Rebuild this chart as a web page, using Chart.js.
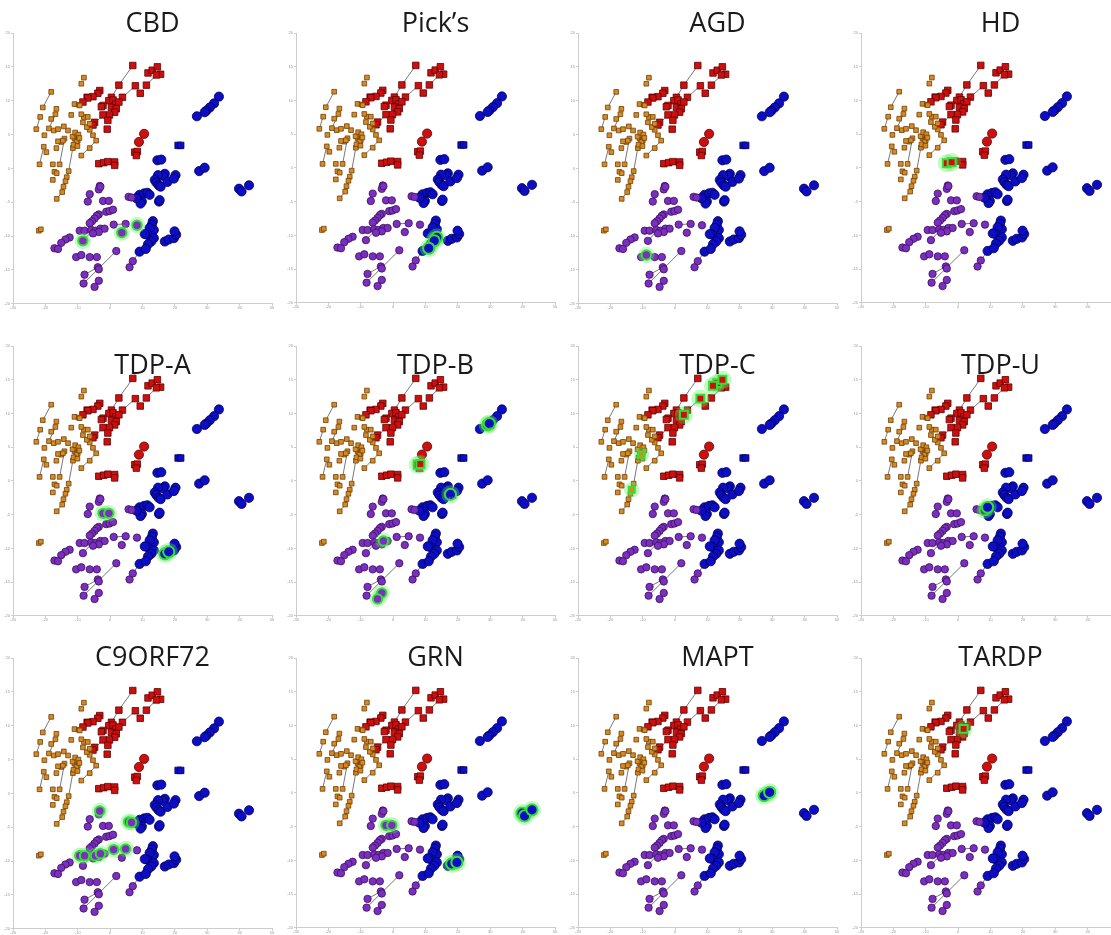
<!DOCTYPE html>
<html>
<head>
<meta charset="utf-8">
<script src="https://cdn.jsdelivr.net/npm/chart.js@4.4.1/dist/chart.umd.min.js"></script>
<style>
  body { margin: 0; background: #fff; width: 1111px; height: 935px; overflow: hidden; position: relative; font-family: "Open Sans", sans-serif; }
  .panel { position: absolute; width: 283px; height: 312px; }
  .title { position: absolute; width: 283px; text-align: center; font-size: 27px; line-height: 30px; color: #1a1a1a; }
</style>
</head>
<body>
<script>
// panel names, in reading order
const panelNames = ['CBD', 'Pick’s', 'AGD', 'HD', 'TDP-A', 'TDP-B', 'TDP-C', 'TDP-U', 'C9ORF72', 'GRN', 'MAPT', 'TARDP']

const xTicks = [-30, -20, -10, 0, 10, 20, 30, 40, 50]
const yTicks = [-20, -15, -10, -5, 0, 5, 10, 15, 20]

// base points, same in every panel
const orange = [[-8.1,13.4],[-8.9,12.5],[-18.2,11.3],[-20.8,9.0],[-21.6,7.6],[-22.8,5.8],[-16.6,8.8],[-16.9,8.0],[-18.2,7.3],[-18.9,5.9],[-17.4,5.6],[-16.1,5.8],[-14.3,6.2],[-13.0,5.6],[-11.0,9.5],[-9.7,9.4],[-12.0,7.9],[-8.1,7.6],[-8.4,6.8],[-11.0,4.4],[-10.0,4.1],[-10.5,4.9],[-11.6,4.7],[-10.4,3.9],[-5.3,4.9],[-4.3,4.1],[-6.3,5.7],[-14.1,4.4],[-15.1,3.9],[-20.3,4.9],[-20.5,3.2],[-19.7,2.4],[-21.8,0.6],[-16.1,4.0],[-16.6,3.0],[-14.6,4.1],[-11.5,3.0],[-6.3,3.0],[-8.9,1.9],[-17.7,0.6],[-15.6,0.6],[-17.2,-0.5],[-16.5,-0.7],[-12.8,-0.4],[-13.4,-1.3],[-13.8,-1.9],[-14.4,-2.7],[-14.8,-3.5],[-17.7,-1.7],[-16.5,-4.5],[-22.0,-9.2],[-21.4,-9.0],[-10.8,5.3],[-9.8,5.0],[-9.5,4.5],[-11.3,3.5],[-10.1,3.3],[-7.2,6.1],[-6.3,6.6],[-8.9,8.0],[-6.9,7.6],[-9.4,9.3]]
const red = [[7.0,15.2],[2.7,12.3],[11.7,14.1],[13.0,14.5],[14.6,15.0],[15.6,13.9],[14.3,13.8],[7.8,12.2],[11.2,12.3],[9.3,11.1],[3.8,10.5],[-3.2,11.5],[-3.8,11.1],[-5.3,10.6],[-7.1,10.5],[-6.9,10.4],[-8.4,9.8],[0.4,10.5],[-0.4,10.0],[0.9,10.1],[1.7,9.5],[2.7,9.8],[-2.2,9.3],[-2.7,9.1],[0.4,9.0],[1.9,8.8],[1.4,8.3],[-0.2,7.9],[-2.2,7.9],[-0.7,7.1],[-4.8,6.8],[-5.3,6.4],[-0.9,5.8],[7.6,2.4],[8.4,2.5],[8.1,1.9],[-3.5,0.7],[-2.0,0.85],[-0.7,1.0],[1.4,0.95],[1.4,0.45]]
const redRound = [[10.5,5.1],[8.9,3.9]]
const blue = [[33.6,10.6],[32.1,9.6],[30.8,9.0],[29.7,8.5],[29.2,8.3],[26.8,7.7],[14.6,1.2],[15.8,1.3],[27.5,-0.4],[29.2,0.1],[39.8,-3.0],[40.6,-3.4],[42.9,-2.5],[16.9,-0.8],[16.3,-1.1],[14.8,-1.0],[13.8,-1.7],[14.3,-2.1],[15.0,-2.5],[15.6,-2.7],[17.7,-2.0],[20.2,-1.0],[19.7,-1.5],[9.1,-3.9],[10.5,-3.7],[11.5,-3.6],[12.2,-3.9],[9.8,-4.9],[9.4,-5.2],[15.1,-4.9],[15.3,-4.7],[13.2,-7.8],[12.9,-8.3],[13.5,-9.1],[12.2,-8.8],[11.5,-9.8],[10.7,-9.7],[13.5,-10.3],[12.7,-10.8],[11.7,-11.2],[16.9,-10.8],[18.1,-10.5],[19.7,-10.3],[20.4,-9.8],[19.9,-9.3],[9.1,-12.3],[11.0,-11.9],[8.1,-4.4]]
const blueRect = [[21.0,3.4],[21.8,3.4]]
const purple = [[-3.2,-2.6],[-3.5,-3.1],[-3.0,-2.7],[-6.3,-3.8],[-6.9,-4.9],[-2.2,-4.8],[-0.4,-4.8],[5.7,-4.2],[6.6,-4.3],[-1.2,-6.4],[-0.2,-6.3],[0.9,-6.1],[-3.5,-6.8],[-4.1,-7.0],[-4.8,-7.4],[-5.6,-7.8],[-6.3,-8.1],[1.1,-8.3],[4.8,-8.2],[8.3,-8.4],[3.6,-9.5],[-9.4,-9.2],[-7.9,-9.2],[-5.8,-9.1],[-4.5,-9.2],[-3.0,-8.9],[-1.7,-8.9],[-3.5,-9.4],[-5.3,-9.6],[-8.4,-10.7],[-12.5,-10.2],[-13.8,-10.5],[-15.1,-11.0],[-17.2,-11.8],[-16.1,-11.9],[-10.5,-13.1],[-8.9,-12.8],[-6.3,-13.1],[-4.1,-13.1],[1.9,-12.2],[-3.8,-14.6],[-3.5,-14.9],[-7.9,-15.7],[-8.2,-17.0],[-3.5,-16.6],[-4.8,-17.5],[6.0,-14.6],[7.0,-13.7]]

// thin grey connectors between points
const links = [
  [[-18.2,11.3],[-20.8,9.0]], [[-21.6,7.6],[-22.8,5.8]], [[-20.5,3.2],[-21.8,0.6]], [[-11.0,4.4],[-12.8,-0.4]],
  [[-12.8,-0.4],[-14.8,-3.5]], [[-14.8,-3.5],[-16.5,-4.5]], [[-8.9,1.9],[-4.3,4.1]], [[-16.9,8.0],[-18.9,5.9]],
  [[-14.1,4.4],[-15.6,0.6]], [[7.0,15.2],[2.7,12.3]], [[2.7,12.3],[0.4,10.5]], [[11.2,12.3],[14.3,13.8]],
  [[3.8,10.5],[7.8,12.2]], [[-5.3,6.4],[-2.2,7.9]], [[-7.1,10.5],[-3.8,11.1]], [[1.1,-8.3],[4.8,-8.2]],
  [[-8.2,-17.0],[1.9,-12.2]], [[-7.9,-15.7],[-3.8,-14.6]], [[-8.4,-10.7],[-6.3,-9.6]], [[-16.1,-11.9],[-13.8,-10.5]],
  [[7.0,-13.7],[9.1,-12.3]], [[11.5,-9.8],[12.2,-8.8]]
]

// highlighted points per panel: x, y, group (o r b p)
const hlCBD = [[-8.4,-10.7,'p'],[3.6,-9.5,'p'],[8.3,-8.4,'p']]
const hlPicks = [[13.5,-10.3,'b'],[12.7,-10.8,'b'],[11.0,-11.9,'b']]
const hlAGD = [[-8.9,-12.8,'p']]
const hlHD = [[-3.5,0.7,'r'],[-2.0,0.85,'r']]
const hlTDPA = [[-2.2,-4.8,'p'],[-0.4,-4.8,'p'],[16.9,-10.8,'b'],[18.1,-10.5,'b']]
const hlTDPB = [[7.6,2.4,'r'],[8.4,2.5,'r'],[29.2,8.3,'b'],[29.7,8.5,'b'],[17.7,-2.0,'b'],[-3.0,-8.9,'p'],[-3.5,-16.6,'p'],[-4.8,-17.5,'p']]
const hlTDPC = [[-13.4,-1.3,'o'],[-10.4,3.9,'o'],[2.7,9.8,'r'],[7.8,12.2,'r'],[13.0,14.5,'r'],[14.6,15.0,'r'],[11.7,14.1,'r']]
const hlTDPU = [[8.1,-4.4,'p'],[9.1,-3.9,'b']]
const hlC9 = [[-3.2,-2.6,'p'],[5.7,-4.2,'p'],[6.6,-4.3,'p'],[-9.4,-9.2,'p'],[-7.9,-9.2,'p'],[-4.5,-9.2,'p'],[-3.0,-8.9,'p'],[1.1,-8.3,'p'],[4.8,-8.2,'p']]
const hlGRN = [[-2.2,-4.8,'p'],[-0.4,-4.8,'p'],[18.1,-10.5,'b'],[19.7,-10.3,'b'],[39.8,-3.0,'b'],[40.6,-3.4,'b'],[42.9,-2.5,'b']]
const hlMAPT = [[27.5,-0.4,'b'],[29.2,0.1,'b']]
const hlTARDP = [[1.7,9.5,'r']]
const highlights = [hlCBD, hlPicks, hlAGD, hlHD, hlTDPA, hlTDPB, hlTDPC, hlTDPU, hlC9, hlGRN, hlMAPT, hlTARDP]

// significance marks in TDP-B
const starsTDPB = [[8.2,1.0,'***'],[30.5,7.4,'**'],[18.4,-3.0,'***']]

const colors = {
  o: { fill: '#d88a1e', line: '#6b4010', r: 3.3, style: 'rect' },
  r: { fill: '#cc1010', line: '#600000', r: 4.6, style: 'rect' },
  b: { fill: '#0d0dc4', line: '#00005a', r: 4.6, style: 'circle' },
  p: { fill: '#7b2fbe', line: '#3a0f60', r: 3.7, style: 'circle' }
}

const pts = arr => arr.map(p => ({ x: p[0], y: p[1] }))

function baseSet(arr, key, style) {
  const c = colors[key]
  return {
    data: pts(arr), pointStyle: style || c.style, pointRadius: c.r,
    backgroundColor: c.fill, borderColor: c.line, borderWidth: 0.8, order: 2
  }
}

const starPlugin = {
  id: 'stars',
  afterDatasetsDraw(chart, args, opts) {
    if (!opts.marks) return
    const ctx = chart.ctx
    ctx.save()
    ctx.fillStyle = '#777'
    ctx.font = '6px "DejaVu Sans"'
    ctx.textAlign = 'center'
    opts.marks.forEach(m => {
      ctx.fillText(m[2], chart.scales.x.getPixelForValue(m[0]), chart.scales.y.getPixelForValue(m[1]))
    })
    ctx.restore()
  }
}

const colLeft = [0, 283, 565, 848]
const rowTop = [0, 313, 625]
const titleY = [22, 364, 656]

panelNames.forEach((name, i) => {
  const col = i % 4, row = Math.floor(i / 4)
  const div = document.createElement('div')
  div.className = 'panel'
  div.style.left = colLeft[col] + 'px'
  div.style.top = rowTop[row] + 'px'
  const cv = document.createElement('canvas')
  cv.width = 283
  cv.height = 312
  div.appendChild(cv)
  document.body.appendChild(div)

  const t = document.createElement('div')
  t.className = 'title'
  t.textContent = name
  t.style.left = (colLeft[col] + 11) + 'px'
  t.style.top = (titleY[row] - 15) + 'px'
  document.body.appendChild(t)

  const datasets = []
  links.forEach(l => datasets.push({
    data: pts(l), showLine: true, pointRadius: 0, borderColor: '#555', borderWidth: 0.8, order: 3
  }))
  datasets.push(baseSet(orange, 'o'))
  datasets.push(baseSet(red, 'r'))
  datasets.push(baseSet(redRound, 'r', 'circle'))
  datasets.push(baseSet(purple, 'p'))
  datasets.push(baseSet(blue, 'b'))
  datasets.push(baseSet(blueRect, 'b', 'rect'))
  const hl = highlights[i]
  // soft green halo, then ring with the point on top
  datasets.push({
    data: pts(hl), pointStyle: 'circle',
    pointRadius: hl.map(h => colors[h[2]].r + 4.5),
    backgroundColor: 'rgba(90,235,90,0.35)', borderWidth: 0, order: 1
  })
  datasets.push({
    data: pts(hl),
    pointStyle: hl.map(h => colors[h[2]].style),
    pointRadius: hl.map(h => colors[h[2]].r + 1),
    backgroundColor: hl.map(h => colors[h[2]].fill),
    borderColor: '#35e035', borderWidth: 2, order: 0
  })

  new Chart(cv, {
    type: 'scatter',
    data: { datasets },
    options: {
      responsive: false, animation: false, devicePixelRatio: 1,
      layout: { padding: { left: 0, right: 11, top: 33, bottom: 0 } },
      plugins: { legend: { display: false }, tooltip: { enabled: false }, stars: { marks: name === 'TDP-B' ? starsTDPB : null } },
      scales: {
        x: {
          min: -30, max: 50,
          afterBuildTicks: s => { s.ticks = xTicks.map(v => ({ value: v })) },
          afterFit: s => { s.height = 6 },
          ticks: { font: { size: 4 }, color: '#999', padding: 0, maxRotation: 0 },
          grid: { drawOnChartArea: false, tickLength: 2, color: '#ccc' },
          border: { color: '#ccc' }
        },
        y: {
          min: -20, max: 20,
          afterBuildTicks: s => { s.ticks = yTicks.map(v => ({ value: v })) },
          afterFit: s => { s.width = 13 },
          ticks: { font: { size: 4 }, color: '#999', padding: 1 },
          grid: { drawOnChartArea: false, tickLength: 2, color: '#ccc' },
          border: { color: '#ccc' }
        }
      }
    },
    plugins: [starPlugin]
  })
})
</script>
</body>
</html>
